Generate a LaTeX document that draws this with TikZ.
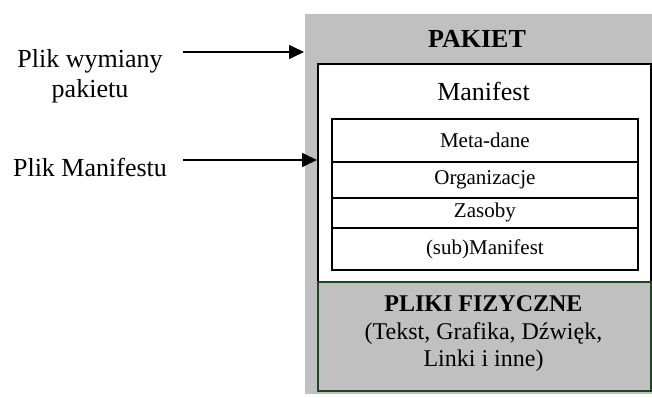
\documentclass[tikz,border=0pt]{standalone}
\usepackage{fontspec}
\setmainfont{Liberation Serif}
\usetikzlibrary{arrows.meta}
\definecolor{pkgray}{HTML}{C0C0C0}
\definecolor{pkgreen}{HTML}{1A4A1A}
\begin{document}
\begin{tikzpicture}[x=1pt,y=-1pt,
  box/.style={rectangle,inner sep=0pt,anchor=north west,line width=1.8pt},
  rowbox/.style={box,draw=black,fill=white,minimum width=306pt,font=\fontsize{21}{24}\selectfont},
  big/.style={font=\fontsize{26}{30}\selectfont,align=center,inner sep=0pt},
  arr/.style={line width=1.6pt,-{Triangle[length=15pt,width=14pt]}}]
\useasboundingbox (0,0) rectangle (652,398);
% outer package
\node[box,fill=pkgray,minimum width=348pt,minimum height=380pt] (pkg) at (304,13) {};
\node[big,font=\fontsize{26}{30}\selectfont\bfseries] (pakiet) at (477,39) {PAKIET};
% manifest box
\node[box,draw=black,fill=white,minimum width=333pt,minimum height=218pt] (man) at (317,63) {};
\node[big] (mantitle) at (483.5,91) {Manifest};
% rows
\node[rowbox,minimum height=43pt] (meta) at (331,118) {Meta-dane};
\node[rowbox,minimum height=36pt] (org) at (331,161) {Organizacje};
\node[rowbox,minimum height=30pt] (zas) at (331,197) {Zasoby};
\node[rowbox,minimum height=42pt] (sub) at (331,227) {(sub)Manifest};
% physical files
\node[box,draw=pkgreen,fill=pkgray,minimum width=333pt,minimum height=109pt] (files) at (317,281) {};
\node[align=center,inner sep=0pt,font=\fontsize{24}{27.5}\selectfont] (filestext) at (483.5,334)
  {\textbf{PLIKI FIZYCZNE}\\(Tekst, Grafika, Dźwięk,\\Linki i inne)};
% left labels
\node[big] (lab1) at (90,76) {Plik wymiany\\pakietu};
\node[big] (lab2) at (90,167) {Plik Manifestu};
\coordinate (s1) at (183,52);
\coordinate (s2) at (183,160);
\draw[arr] (s1) -- (s1 -| pkg.west);
\draw[arr] (s2) -- (s2 -| man.west);
\end{tikzpicture}
\end{document}
